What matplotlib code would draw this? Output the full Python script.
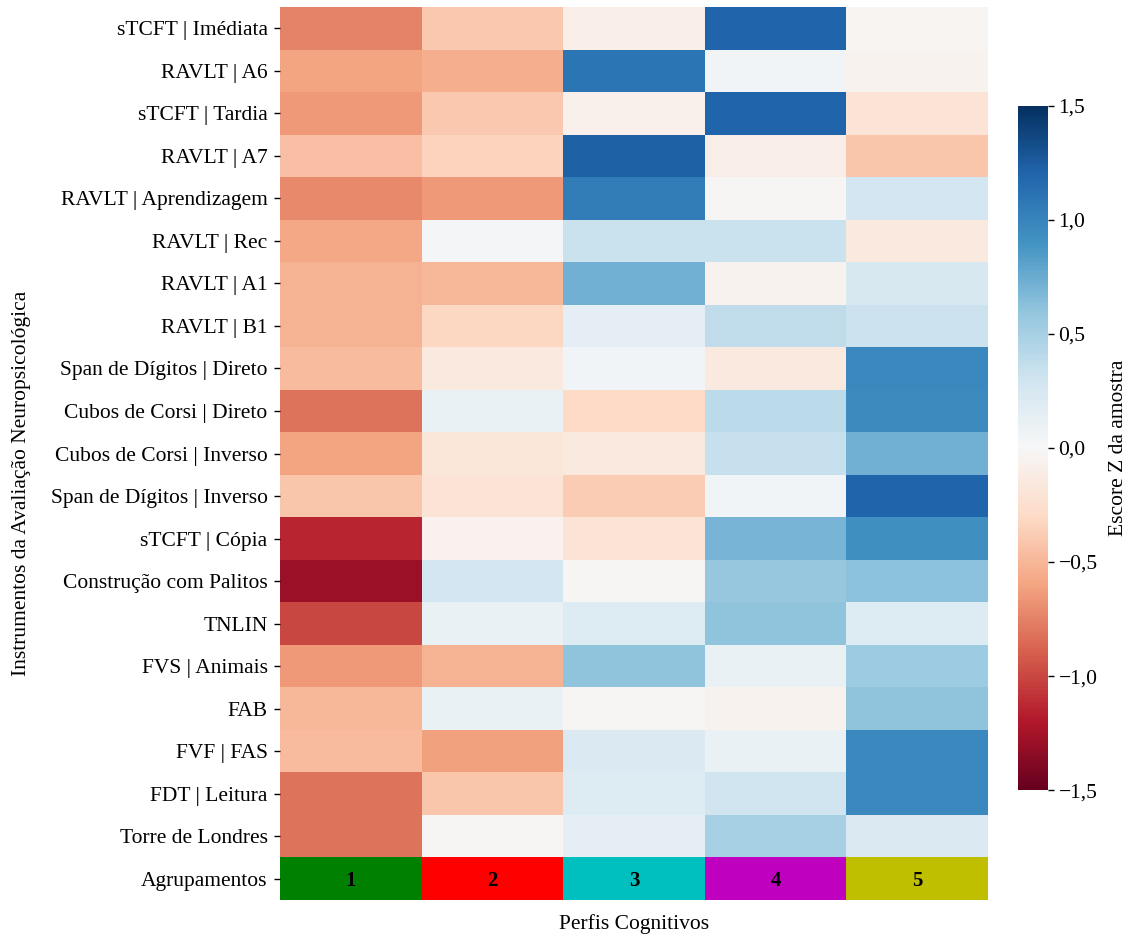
import numpy as np
import matplotlib.pyplot as plt
from matplotlib.colors import ListedColormap
from matplotlib.ticker import FuncFormatter

plt.rcParams['font.family'] = ['Liberation Serif', 'DejaVu Serif']

instrumentos = [
    "sTCFT | Imédiata", "RAVLT | A6", "sTCFT | Tardia", "RAVLT | A7",
    "RAVLT | Aprendizagem", "RAVLT | Rec", "RAVLT | A1", "RAVLT | B1",
    "Span de Dígitos | Direto", "Cubos de Corsi | Direto",
    "Cubos de Corsi | Inverso", "Span de Dígitos | Inverso",
    "sTCFT | Cópia", "Construção com Palitos", "TNLIN", "FVS | Animais",
    "FAB", "FVF | FAS", "FDT | Leitura", "Torre de Londres",
]
perfis = ["1", "2", "3", "4", "5"]
cores_grupo = ["green", "red", "c", "m", "y"]

# escores Z medios por perfil (colunas 1..5)
escores = [
    [-0.75, -0.40, -0.10, 1.20, -0.03],
    [-0.60, -0.55, 1.10, 0.05, -0.05],
    [-0.65, -0.40, -0.08, 1.20, -0.20],
    [-0.45, -0.35, 1.22, -0.10, -0.42],
    [-0.72, -0.65, 1.05, -0.02, 0.28],
    [-0.58, 0.03, 0.33, 0.33, -0.15],
    [-0.52, -0.50, 0.72, -0.05, 0.25],
    [-0.52, -0.32, 0.15, 0.38, 0.32],
    [-0.47, -0.15, 0.05, -0.15, 0.97],
    [-0.82, 0.10, -0.30, 0.40, 0.95],
    [-0.60, -0.18, -0.15, 0.35, 0.72],
    [-0.42, -0.20, -0.38, 0.05, 1.20],
    [-1.14, -0.07, -0.20, 0.70, 0.92],
    [-1.29, 0.28, -0.02, 0.58, 0.62],
    [-1.00, 0.10, 0.20, 0.60, 0.20],
    [-0.65, -0.52, 0.60, 0.10, 0.55],
    [-0.50, 0.10, -0.02, -0.05, 0.60],
    [-0.48, -0.62, 0.23, 0.10, 0.97],
    [-0.82, -0.42, 0.20, 0.30, 0.97],
    [-0.82, -0.02, 0.15, 0.50, 0.22],
]

Z = np.array(escores)
nlin, ncol = Z.shape

fig = plt.figure(figsize=(11.37, 9.34), dpi=100)
ax = fig.add_axes([0.2463, 0.0364, 0.6227, 0.9561])
cax = fig.add_axes([0.8955, 0.154, 0.0264, 0.733])

mesh = ax.pcolormesh(np.arange(ncol + 1), np.arange(nlin + 1), Z,
                     cmap="RdBu", vmin=-1.5, vmax=1.5)
# linha extra com as cores dos agrupamentos
grupo = np.arange(ncol).reshape(1, -1)
ax.pcolormesh(np.arange(ncol + 1), [nlin, nlin + 1], grupo,
              cmap=ListedColormap(cores_grupo), vmin=-0.5, vmax=ncol - 0.5)
for j, p in enumerate(perfis):
    ax.text(j + 0.5, nlin + 0.55, p, ha="center", va="center",
            fontsize=15, fontweight="bold", color="black")

fs = 15.5
ax.set_xlim(0, ncol)
ax.set_ylim(nlin + 1, 0)
ax.set_yticks(np.arange(nlin + 1) + 0.5)
ax.set_yticklabels(instrumentos + ["Agrupamentos"], fontsize=fs)
ax.set_xticks([])
ax.tick_params(axis="y", length=4, width=1, pad=5)
for s in ax.spines.values():
    s.set_visible(False)
ax.set_xlabel("Perfis Cognitivos", fontsize=fs, labelpad=10)
ax.set_ylabel("Instrumentos da Avaliação Neuropsicológica", fontsize=fs)
ax.yaxis.set_label_coords(-0.352, 0.467)

cb = fig.colorbar(mesh, cax=cax, ticks=np.arange(-1.5, 1.51, 0.5))
cb.outline.set_visible(False)
cb.ax.yaxis.set_major_formatter(
    FuncFormatter(lambda v, _: f"{v:.1f}".replace(".", ",").replace("-", "\u2212")))
cb.ax.tick_params(labelsize=fs, length=4, width=1)
cb.set_label("Escore Z da amostra", fontsize=fs, labelpad=8)

fig.savefig("out.png", dpi=100)
